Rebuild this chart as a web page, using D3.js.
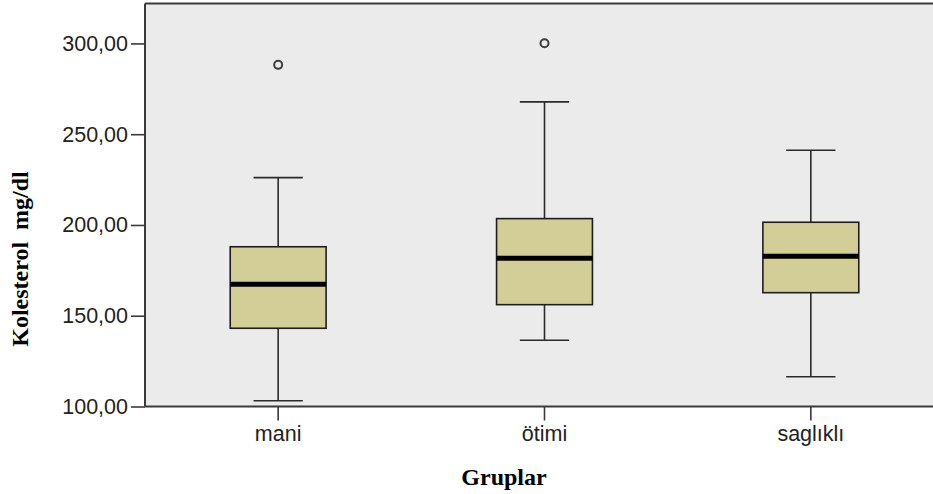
<!DOCTYPE html>
<html>
<head>
<meta charset="utf-8">
<script src="https://cdn.jsdelivr.net/npm/d3@7"></script>
<style>
  html, body { margin: 0; padding: 0; background: #fff; }
  svg { display: block; }
</style>
</head>
<body>
<svg id="chart" width="933" height="494"></svg>
<script>
const categories = ["mani", "ötimi", "saglıklı"];
const whiskerLow  = [103.2, 136.5, 116.4];
const q1          = [143.1, 156.1, 162.7];
const median      = [167.3, 181.7, 182.8];
const q3          = [188.0, 203.5, 201.5];
const whiskerHigh = [226.1, 267.8, 241.2];
const outliers    = [[288.2], [300.1], []];
const yTicks      = [100, 150, 200, 250, 300];
const xTitle = "Gruplar";
const yTitle = "Kolesterol  mg/dl";

const data = categories.map((c, i) => ({
  cat: c, lo: whiskerLow[i], q1: q1[i], med: median[i], q3: q3[i], hi: whiskerHigh[i], out: outliers[i]
}));

const svg = d3.select("#chart");
const pLeft = 145, pRight = 944, pTop = 3.5, pBottom = 406.5;

const x = d3.scaleBand().domain(categories).range([pLeft, pRight]).padding(0);
const y = d3.scaleLinear().domain([100, 322]).range([pBottom, pTop]);

const sans = "'Liberation Sans', Arial, sans-serif";
const serif = "'Liberation Serif', 'Times New Roman', serif";

svg.append("rect")
  .attr("x", pLeft).attr("y", pTop)
  .attr("width", pRight - pLeft).attr("height", pBottom - pTop)
  .attr("fill", "#ebebeb");

svg.append("line").attr("x1", pLeft).attr("x2", pRight).attr("y1", pTop).attr("y2", pTop)
  .attr("stroke", "#3a3a3a").attr("stroke-width", 2);

const boxW = x.bandwidth() * 0.36;
const capW = x.bandwidth() * 0.185;
const g = svg.append("g");

data.forEach(d => {
  const cx = x(d.cat) + x.bandwidth() / 2;
  g.append("line").attr("x1", cx).attr("x2", cx).attr("y1", y(d.hi)).attr("y2", y(d.q3))
    .attr("stroke", "#2a2a2a").attr("stroke-width", 1.6);
  g.append("line").attr("x1", cx).attr("x2", cx).attr("y1", y(d.q1)).attr("y2", y(d.lo))
    .attr("stroke", "#2a2a2a").attr("stroke-width", 1.6);
  [d.hi, d.lo].forEach(v => {
    g.append("line").attr("x1", cx - capW / 2).attr("x2", cx + capW / 2)
      .attr("y1", y(v)).attr("y2", y(v))
      .attr("stroke", "#2a2a2a").attr("stroke-width", 1.6);
  });
  g.append("rect").attr("x", cx - boxW / 2).attr("y", y(d.q3))
    .attr("width", boxW).attr("height", y(d.q1) - y(d.q3))
    .attr("fill", "#d3ce97").attr("stroke", "#1e1e1e").attr("stroke-width", 1.6);
  g.append("line").attr("x1", cx - boxW / 2).attr("x2", cx + boxW / 2)
    .attr("y1", y(d.med)).attr("y2", y(d.med))
    .attr("stroke", "#000").attr("stroke-width", 5);
  d.out.forEach(v => {
    g.append("circle").attr("cx", cx).attr("cy", y(v)).attr("r", 4)
      .attr("fill", "none").attr("stroke", "#3c3c3c").attr("stroke-width", 2);
  });
});

const yAxis = svg.append("g").attr("transform", `translate(${pLeft},0)`)
  .call(d3.axisLeft(y).tickValues(yTicks).tickSize(14).tickPadding(3)
    .tickFormat(d => d3.format(".2f")(d).replace(".", ",")));
yAxis.select(".domain").attr("stroke", "#3a3a3a").attr("stroke-width", 2)
  .attr("d", `M0,${pTop}V${pBottom}`);
yAxis.selectAll(".tick line").attr("stroke", "#3a3a3a").attr("stroke-width", 1.6);
yAxis.selectAll(".tick text").attr("font-family", sans).attr("font-size", 21.5).attr("fill", "#222");

const xAxis = svg.append("g").attr("transform", `translate(0,${pBottom})`)
  .call(d3.axisBottom(x).tickSize(14).tickPadding(5));
xAxis.select(".domain").attr("stroke", "#3a3a3a").attr("stroke-width", 2)
  .attr("d", `M${pLeft},0H${pRight}`);
xAxis.selectAll(".tick line").attr("stroke", "#3a3a3a").attr("stroke-width", 1.6);
xAxis.selectAll(".tick text").attr("font-family", sans).attr("font-size", 21.5).attr("fill", "#222");

svg.append("text").attr("x", 504).attr("y", 485)
  .attr("text-anchor", "middle").attr("font-family", serif).attr("font-weight", "bold")
  .attr("font-size", 24).attr("fill", "#000").text(xTitle);

svg.append("text")
  .attr("transform", "translate(27.5,259) rotate(-90)")
  .attr("text-anchor", "middle").attr("font-family", serif).attr("font-weight", "bold")
  .attr("font-size", 24).attr("fill", "#000").style("white-space", "pre").text(yTitle);
</script>
</body>
</html>
